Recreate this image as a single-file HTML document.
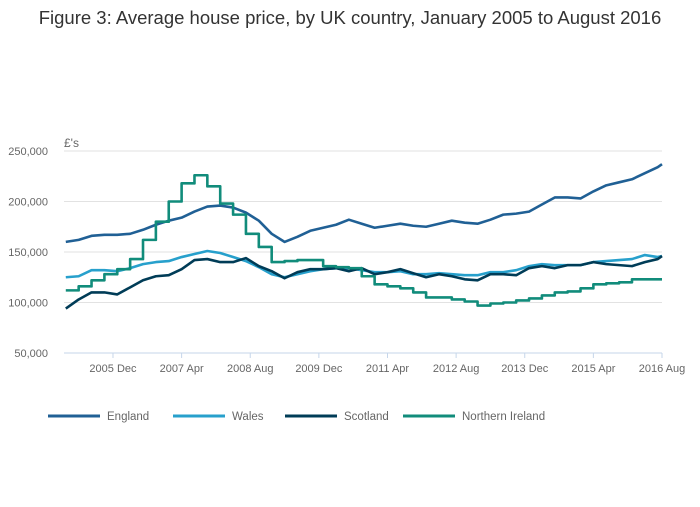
<!DOCTYPE html>
<html><head><meta charset="utf-8"><style>
body{margin:0;background:#fff;font-family:"Liberation Sans",sans-serif}
svg text{font-family:"Liberation Sans",sans-serif}
</style></head><body>
<svg id="chart" width="700" height="502" viewBox="0 0 700 502" xmlns="http://www.w3.org/2000/svg">
<text x="350" y="24" text-anchor="middle" font-size="18.5" fill="#333">Figure 3: Average house price, by UK country, January 2005 to August 2016</text>
<text x="64" y="147" font-size="12" fill="#666">£'s</text>
<g id="grid"></g><g id="series"></g><g id="legend"></g>
</svg>
<script>
const months = [0,3,6,9,12,15,18,21,24,27,30,33,36,39,42,45,48,51,54,57,60,63,66,69,72,75,78,81,84,87,90,93,96,99,102,105,108,111,114,117,120,123,126,129,132,135,138,139];
const england = [160,162,166,167,167,168,172,177,181,184,190,195,196,194,189,181,168,160,165,171,174,177,182,178,174,176,178,176,175,178,181,179,178,182,187,188,190,197,204,204,203,210,216,219,222,228,234,237];
const wales = [125,126,132,132,131,134,138,140,141,145,148,151,149,145,141,135,128,125,128,131,133,134,134,132,130,130,131,128,128,129,128,127,127,130,130,132,136,138,137,137,137,140,141,142,143,147,145,146];
const scotland = [94,103,110,110,108,115,122,126,127,133,142,143,140,140,144,136,131,124,130,133,133,134,131,134,128,130,133,129,125,128,126,123,122,128,128,127,134,136,134,137,137,140,138,137,136,140,143,146];
const nireland = [112,116,122,128,133,143,162,180,200,218,226,215,198,187,168,155,140,141,142,142,136,135,134,126,118,116,114,110,105,105,103,101,97,99,100,102,104,107,110,111,114,118,119,120,123,123,123,123];
const yTicks = [50000,100000,150000,200000,250000];
const xTickMonths = [11,27,43,59,75,91,107,123,139];
const xTickLabels = ["2005 Dec","2007 Apr","2008 Aug","2009 Dec","2011 Apr","2012 Aug","2013 Dec","2015 Apr","2016 Aug"];
const seriesNames = ["England","Wales","Scotland","Northern Ireland"];
const ns="http://www.w3.org/2000/svg";
const X = m => 65.8 + m*(662-65.8)/139;
const Y = v => 353 - (v-50000)*(202/200000);
const grid=document.getElementById('grid'), ser=document.getElementById('series'), leg=document.getElementById('legend');
function mk(tag,attrs,parent){const e=document.createElementNS(ns,tag);for(const k in attrs)e.setAttribute(k,attrs[k]);parent.appendChild(e);return e;}
yTicks.forEach(t=>{
  if(t>50000){
    const l=mk('line',{x1:64,x2:662,y1:Y(t),y2:Y(t),stroke:'#e2e2e2','stroke-width':1},grid);
    
    
  }
  const tx=mk('text',{x:48,y:Y(t)+4,'text-anchor':'end','font-size':11,fill:'#666'},grid);
  tx.textContent=t.toLocaleString('en-GB');
  
  
});
const ax=mk('line',{x1:64,x2:662,y1:353,y2:353,stroke:'#c6d6ea','stroke-width':1},grid);


xTickMonths.forEach((m,i)=>{
  const l=mk('line',{x1:X(m),x2:X(m),y1:353,y2:358,stroke:'#c6d6ea','stroke-width':1},grid);
  
  
  const tx=mk('text',{x:X(m),y:372,'text-anchor':'middle','font-size':11,fill:'#666'},grid);
  tx.textContent=xTickLabels[i];
  
  
});
const colors=['#206095','#27a0cc','#003c57','#118c7b'];
const data=[england,wales,scotland,nireland];
data.forEach((arr,si)=>{
  let d='';
  arr.forEach((v,i)=>{
    const x=X(months[i]), y=Y(v*1000);
    if(i===0) d='M'+x+','+y;
    else if(si===3){ d+=' H'+x+' V'+y; }
    else d+=' L'+x+','+y;
  });
  const p=mk('path',{d:d,fill:'none',stroke:colors[si],'stroke-width':2.6,'stroke-linejoin':'round'},ser);
  
  
});
const legX=[48,173,285,403];
seriesNames.forEach((n,i)=>{
  const g=mk('g',{},leg);
  
  
  mk('line',{x1:legX[i],x2:legX[i]+52,y1:416,y2:416,stroke:colors[i],'stroke-width':3},g);
  const t=mk('text',{x:legX[i]+59,y:420,'font-size':11.5,fill:'#666'},g);
  t.textContent=n;
});
</script>
</body></html>
